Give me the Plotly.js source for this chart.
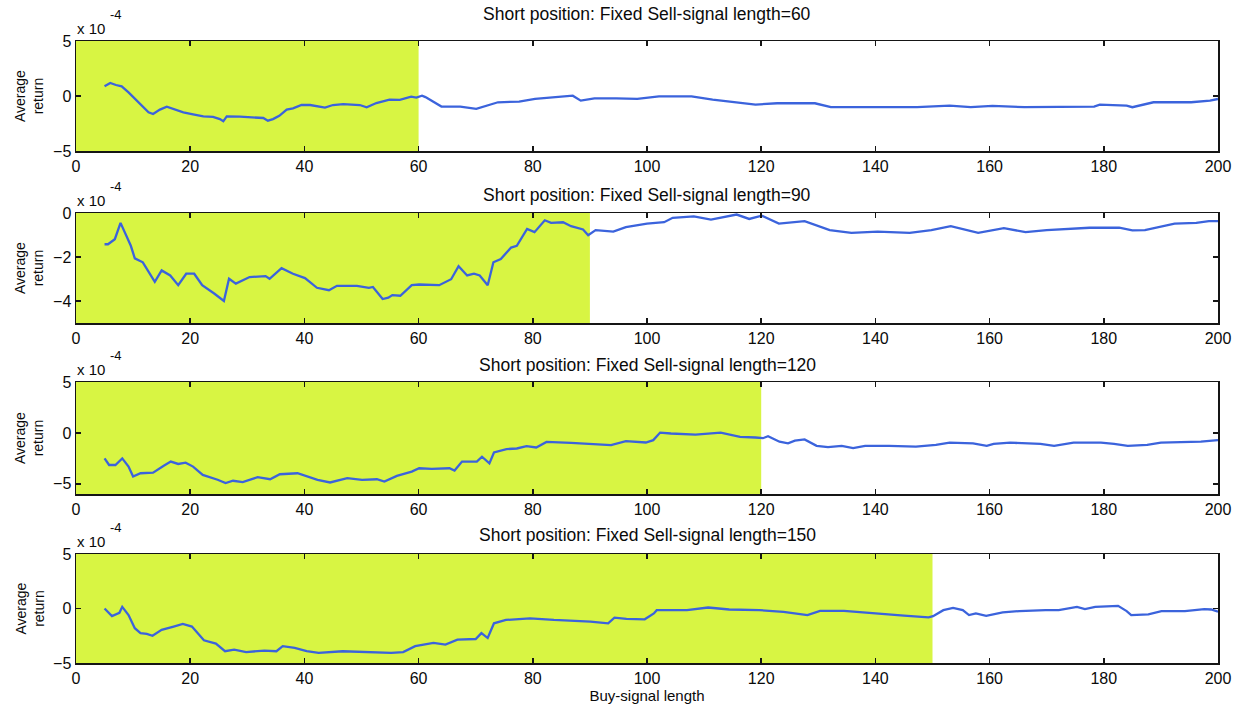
<!DOCTYPE html>
<html>
<head>
<meta charset="utf-8">
<script src="https://cdn.plot.ly/plotly-3.0.1.min.js"></script>
<style>
  html, body { margin: 0; padding: 0; background: #ffffff; }
  #chart { width: 1242px; height: 711px; }
</style>
</head>
<body>
<div id="chart"></div>
<script>
// Fixed sell-signal lengths, one panel each
const sellLengths = [60, 90, 120, 150];

// Average return (x 1e-4) against buy-signal length, sell length = 60
const buy60 = [5, 6, 7, 8, 9.2, 10.6, 12.7, 13.5, 14.7, 15.9, 17, 18.8, 20.5, 22.3, 24, 25.2, 25.8, 26.4, 28.7, 31, 32.8, 33.6, 34.5, 35.6, 36.9, 38, 39.5, 41, 42.7, 43.6, 45, 46.8, 49.7, 50.9, 52.6, 54.9, 56.7, 58.7, 59.6, 60.6, 61.2, 62.5, 64, 67.3, 70.1, 73.9, 77.6, 80.4, 83.3, 87, 88.4, 90.8, 94.6, 98.3, 102.1, 107.8, 111.5, 117.2, 119, 122.8, 129.4, 132.2, 139.8, 143.5, 147.3, 153, 156.7, 160.5, 166.1, 178.3, 179.3, 184, 185, 188.7, 195.3, 198.6, 200];
const ret60 = [0.88, 1.18, 1.0, 0.88, 0.33, -0.42, -1.48, -1.64, -1.24, -0.97, -1.18, -1.48, -1.67, -1.85, -1.9, -2.1, -2.3, -1.85, -1.88, -1.94, -2.0, -2.24, -2.1, -1.8, -1.24, -1.12, -0.82, -0.82, -0.94, -1.06, -0.82, -0.73, -0.82, -1.03, -0.64, -0.33, -0.36, -0.06, -0.15, 0.03, -0.1, -0.5, -0.96, -0.96, -1.17, -0.57, -0.51, -0.27, -0.12, 0.03, -0.42, -0.21, -0.21, -0.27, -0.03, -0.03, -0.33, -0.72, -0.78, -0.66, -0.66, -1.02, -1.02, -0.96, -1.02, -0.87, -1.02, -0.9, -1.02, -0.96, -0.78, -0.87, -1.02, -0.57, -0.57, -0.42, -0.27];

// sell length = 90
const buy90 = [5, 5.6, 6.8, 7.8, 9.6, 10.3, 11.7, 13.8, 15, 16.5, 17.9, 19.3, 20.7, 22.1, 24.2, 25.9, 26.8, 28, 30.4, 33.2, 33.9, 36, 38, 40.1, 42.2, 44.3, 45.7, 49.2, 51.3, 52, 53.7, 54.7, 55.4, 56.8, 58.8, 60.1, 63.6, 65.7, 67, 68.5, 69.7, 70.7, 72.1, 73.1, 74.4, 76.2, 77.2, 79, 80.3, 82.1, 83.2, 85.3, 86.7, 88.8, 89.7, 91, 94.1, 96.3, 100, 103, 104.5, 108.2, 111.2, 115.7, 117.9, 120.1, 123.1, 127.6, 132, 135.8, 140.4, 146, 149.8, 153.2, 158, 162.5, 166.3, 170, 177.5, 182.7, 185, 187.2, 192.4, 196.2, 198.4, 200];
const ret90 = [-1.42, -1.42, -1.19, -0.45, -1.49, -2.06, -2.24, -3.13, -2.61, -2.84, -3.28, -2.76, -2.76, -3.28, -3.66, -4.0, -2.99, -3.21, -2.91, -2.87, -2.99, -2.51, -2.76, -2.96, -3.4, -3.51, -3.31, -3.31, -3.4, -3.36, -3.91, -3.85, -3.73, -3.76, -3.28, -3.25, -3.28, -3.01, -2.42, -2.84, -2.76, -2.84, -3.28, -2.24, -2.09, -1.57, -1.49, -0.72, -0.87, -0.33, -0.45, -0.42, -0.6, -0.75, -1.01, -0.78, -0.85, -0.64, -0.48, -0.42, -0.22, -0.15, -0.3, -0.07, -0.27, -0.12, -0.48, -0.37, -0.78, -0.9, -0.85, -0.9, -0.78, -0.6, -0.9, -0.69, -0.87, -0.78, -0.67, -0.67, -0.79, -0.78, -0.48, -0.45, -0.37, -0.37];

// sell length = 120
const buy120 = [5, 5.8, 6.9, 8.1, 9.2, 10, 11.3, 13.5, 15.3, 16.6, 17.9, 19.2, 20.5, 22.2, 24.8, 26.2, 27.5, 29.2, 31.8, 34, 35.7, 38.8, 42.3, 44.5, 47.5, 50.1, 52.7, 54, 56.2, 58.8, 60.1, 62.3, 65.4, 66.3, 67.6, 70.2, 71.1, 72.4, 73.2, 75.4, 77.2, 78.9, 80.6, 82.4, 86.7, 91.1, 93.7, 96.3, 99.8, 101.1, 102.3, 104.2, 108.5, 112.9, 116.3, 119, 120.3, 121.2, 123.2, 124.7, 125.9, 127.6, 129.7, 131.7, 134.1, 136.1, 138.2, 142.4, 147.1, 150.6, 153, 157.1, 159.5, 160.7, 163.6, 168.9, 171.3, 174.7, 179.5, 181.8, 184.2, 187.6, 190, 197, 200];
const ret120 = [-2.5, -3.15, -3.15, -2.5, -3.31, -4.29, -3.96, -3.9, -3.25, -2.82, -3.05, -2.92, -3.31, -4.12, -4.6, -4.93, -4.7, -4.84, -4.35, -4.55, -4.06, -3.96, -4.61, -4.87, -4.45, -4.61, -4.55, -4.77, -4.22, -3.8, -3.47, -3.54, -3.47, -3.7, -2.82, -2.82, -2.34, -2.99, -1.92, -1.59, -1.53, -1.3, -1.43, -0.88, -0.97, -1.1, -1.2, -0.81, -0.94, -0.71, 0.03, -0.06, -0.16, 0.03, -0.39, -0.45, -0.52, -0.32, -0.86, -1.02, -0.76, -0.64, -1.27, -1.4, -1.27, -1.5, -1.27, -1.27, -1.34, -1.18, -0.96, -1.02, -1.27, -1.08, -0.96, -1.08, -1.27, -0.96, -0.96, -1.08, -1.27, -1.18, -0.96, -0.86, -0.7];

// sell length = 150
const buy150 = [5, 6.3, 7.6, 8.1, 9.2, 10.3, 11.3, 12.4, 13.4, 15, 17.1, 18.7, 20.3, 22.4, 24.5, 26.1, 27.7, 29.8, 33, 35.1, 36.2, 38.3, 40.4, 42.5, 46.7, 51, 55.2, 57.3, 59.4, 62.6, 64.7, 66.8, 70, 71, 72.1, 73.2, 75.3, 79.5, 83.7, 90.1, 93.2, 94.3, 96.4, 99.6, 101.2, 101.7, 107, 110.7, 114.4, 119.7, 123.9, 128.1, 130.3, 134.5, 139.8, 145, 149.3, 150.1, 151.9, 153.6, 155.3, 156.4, 157.6, 159.4, 162.3, 165.2, 169.8, 172.1, 175.3, 176.7, 178.5, 182.5, 184, 184.8, 187.8, 190.1, 194.2, 197.6, 198.8, 200];
const ret150 = [0, -0.69, -0.39, 0.15, -0.6, -1.81, -2.26, -2.32, -2.5, -1.96, -1.66, -1.42, -1.66, -2.92, -3.22, -3.92, -3.77, -4.0, -3.86, -3.92, -3.46, -3.61, -3.92, -4.07, -3.92, -3.98, -4.07, -4.0, -3.46, -3.16, -3.31, -2.86, -2.8, -2.26, -2.71, -1.36, -1.05, -0.9, -1.05, -1.2, -1.36, -0.84, -0.96, -0.99, -0.45, -0.15, -0.15, 0.09, -0.09, -0.15, -0.3, -0.6, -0.21, -0.21, -0.45, -0.66, -0.81, -0.7, -0.15, 0.06, -0.15, -0.6, -0.45, -0.67, -0.36, -0.24, -0.15, -0.15, 0.15, -0.06, 0.15, 0.24, -0.24, -0.6, -0.54, -0.24, -0.24, -0.06, -0.09, -0.3];

const buySeries = [buy60, buy90, buy120, buy150];
const retSeries = [ret60, ret90, ret120, ret150];

// Axis ranges and tick labels for each panel
const yRanges = [[-5, 5], [-5, 0], [-6, 5], [-5, 5]];
const yTicks = [[-5, 0, 5], [-4, -2, 0], [-5, 0, 5], [-5, 0, 5]];
const xTicks = [0, 20, 40, 60, 80, 100, 120, 140, 160, 180, 200];

// Panel placement (pixels from the top of the page)
const W = 1242, H = 711;
const panelTop = [41, 213, 382, 554];
const panelBottom = [151, 323, 494, 663];
const titleY = [14, 195, 365, 535];
const plotLeft = 76, plotRight = 1218;

const lineColor = '#3b63dc';
const shadeColor = '#d8f543';
const axisColor = '#151515';
const fontFamily = 'Liberation Sans, Arial, sans-serif';
const textColor = '#0a0a0a';

const data = [];
const layout = {
  width: W, height: H,
  margin: {l: 0, r: 0, t: 0, b: 0},
  paper_bgcolor: '#ffffff',
  plot_bgcolor: '#ffffff',
  showlegend: false,
  font: {family: fontFamily, color: textColor, size: 16},
  shapes: [],
  annotations: []
};

const fy = px => 1 - px / H;
const fx = px => px / W;

sellLengths.forEach((sell, i) => {
  const n = i + 1;
  const xa = 'xaxis' + (n === 1 ? '' : n);
  const ya = 'yaxis' + (n === 1 ? '' : n);
  const xr = 'x' + (n === 1 ? '' : n);
  const yr = 'y' + (n === 1 ? '' : n);

  data.push({
    type: 'scatter', mode: 'lines',
    x: buySeries[i], y: retSeries[i],
    xaxis: xr, yaxis: yr,
    line: {color: lineColor, width: 2.3},
    hoverinfo: 'skip'
  });

  layout[xa] = {
    domain: [fx(plotLeft), fx(plotRight)],
    anchor: yr,
    range: [0, 200],
    tickvals: xTicks,
    ticks: 'inside', ticklen: 5, tickwidth: 1.5, tickcolor: axisColor,
    showline: true, linecolor: axisColor, linewidth: 1.5, mirror: 'allticks',
    showgrid: false, zeroline: false,
    tickfont: {family: fontFamily, size: 16, color: textColor},
    fixedrange: true
  };
  layout[ya] = {
    domain: [fy(panelBottom[i]), fy(panelTop[i])],
    anchor: xr,
    range: yRanges[i],
    tickvals: yTicks[i],
    ticks: 'inside', ticklen: 5, tickwidth: 1.5, tickcolor: axisColor,
    showline: true, linecolor: axisColor, linewidth: 1.5, mirror: 'allticks',
    showgrid: false, zeroline: false,
    tickfont: {family: fontFamily, size: 16, color: textColor},
    fixedrange: true
  };

  // Shaded window covering buy-signal lengths up to the fixed sell length
  layout.shapes.push({
    type: 'rect', layer: 'below',
    xref: xr, yref: yr + ' domain',
    x0: 0, x1: sell, y0: 0, y1: 1,
    fillcolor: shadeColor, line: {width: 0}
  });

  // Panel title
  layout.annotations.push({
    xref: 'paper', yref: 'paper',
    x: fx((plotLeft + plotRight) / 2), y: fy(titleY[i]),
    xanchor: 'center', yanchor: 'middle',
    text: 'Short position: Fixed Sell-signal length=' + sell,
    showarrow: false,
    font: {family: fontFamily, size: 17.5, color: textColor}
  });

  // Exponent marker above the y axis
  layout.annotations.push({
    xref: 'paper', yref: 'paper',
    x: fx(plotLeft - 1), y: fy(panelTop[i] - 2),
    xanchor: 'left', yanchor: 'bottom',
    text: 'x 10', showarrow: false,
    font: {family: fontFamily, size: 15, color: textColor}
  });
  layout.annotations.push({
    xref: 'paper', yref: 'paper',
    x: fx(plotLeft + 32), y: fy(panelTop[i] - 17),
    xanchor: 'left', yanchor: 'bottom',
    text: '-4', showarrow: false,
    font: {family: fontFamily, size: 13, color: textColor}
  });

  // Y axis label
  layout.annotations.push({
    xref: 'paper', yref: 'paper',
    x: fx(29), y: fy((panelTop[i] + panelBottom[i]) / 2),
    xanchor: 'center', yanchor: 'middle',
    text: 'Average<br>return', textangle: -90,
    showarrow: false,
    font: {family: fontFamily, size: 14, color: textColor}
  });
});

layout.xaxis4.title = {
  text: 'Buy-signal length',
  font: {family: fontFamily, size: 15, color: textColor},
  standoff: 4
};

Plotly.newPlot('chart', data, layout, {displayModeBar: false, staticPlot: true});
</script>
</body>
</html>
